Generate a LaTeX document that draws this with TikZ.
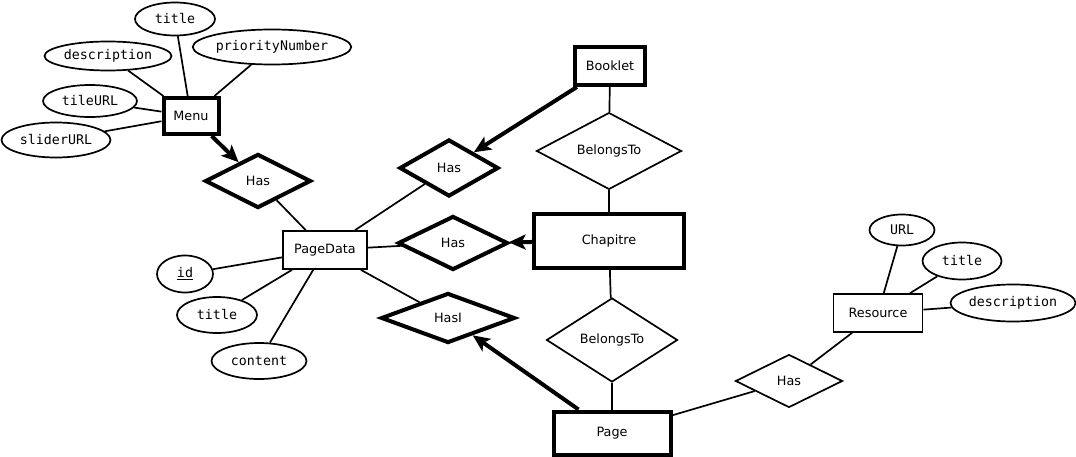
\documentclass[tikz,border=0pt]{standalone}
\usepackage{fontspec}
\setmainfont{DejaVu Sans}
\newfontfamily\monof{DejaVu Sans Mono}
\usetikzlibrary{shapes.geometric,arrows.meta}
\tikzset{
  thinln/.style={line width=1.7pt},
  thickln/.style={line width=4pt},
  lbl/.style={font=\fontsize{12.8pt}{14pt}\selectfont},
  attr/.style={ellipse, draw, thinln, inner sep=0pt, font=\monof\fontsize{13.3pt}{15pt}\selectfont},
  ent/.style={rectangle, draw, thinln, inner sep=0pt, lbl},
  strongent/.style={rectangle, draw, thickln, inner sep=0pt, lbl},
  rel/.style={diamond, draw, thinln, inner sep=0pt, lbl},
  strongrel/.style={diamond, draw, thickln, inner sep=0pt, lbl},
  conn/.style={thinln},
  bigarrow/.style={thickln, -{Stealth[length=17pt,width=15pt,inset=4pt]}},
}
\begin{document}
\begin{tikzpicture}[x=1pt,y=-1pt]
\useasboundingbox (0,0) rectangle (1076,457);
% Menu cluster
\node[strongent, minimum width=55, minimum height=36] (menu) at (191,116) {Menu};
\node[attr, minimum width=80, minimum height=33] (mtitle) at (175,19) {title};
\node[attr, minimum width=127, minimum height=29] (mdesc) at (108,56) {description};
\node[attr, minimum width=148, minimum height=35] (mprio) at (272,47) {priorityNumber};
\node[attr, minimum width=94, minimum height=32] (mtile) at (90,101) {tileURL};
\node[attr, minimum width=109, minimum height=35] (mslider) at (56,140) {sliderURL};
\node[strongrel, minimum width=106, minimum height=54] (has1) at (258,181) {Has};
% PageData cluster
\node[ent, minimum width=84, minimum height=38] (pagedata) at (325,250) {PageData};
\node[strongrel, minimum width=99, minimum height=57] (has2) at (449,168) {Has};
\node[strongrel, minimum width=110, minimum height=54] (has3) at (453,243) {Has};
\node[strongrel, minimum width=134, minimum height=50] (hasi) at (448,318) {HasI};
\node[attr, minimum width=56, minimum height=37] (pid) at (185,274) {\underline{id}};
\node[attr, minimum width=80, minimum height=36] (ptitle) at (217,315) {title};
\node[attr, minimum width=95, minimum height=36] (pcontent) at (259,361) {content};
% middle column
\node[strongent, minimum width=70, minimum height=38] (booklet) at (610,66) {Booklet};
\node[rel, minimum width=145, minimum height=72] (bel1) at (609,151) {BelongsTo};
\node[strongent, minimum width=150, minimum height=53] (chapitre) at (609,241) {Chapitre};
\node[rel, minimum width=131, minimum height=84] (bel2) at (612,340) {BelongsTo};
\node[strongent, minimum width=117, minimum height=43] (page) at (612,433) {Page};
% Resource cluster
\node[rel, minimum width=107, minimum height=53] (has4) at (789,381) {Has};
\node[ent, minimum width=89, minimum height=38] (resource) at (878,313) {Resource};
\node[attr, minimum width=65, minimum height=31] (rurl) at (902,230) {URL};
\node[attr, minimum width=79, minimum height=37] (rtitle) at (962,261) {title};
\node[attr, minimum width=125, minimum height=37] (rdesc) at (1013,303) {description};
% connectors
\draw[conn] (mtitle) -- (menu);
\draw[conn] (mdesc) -- (menu);
\draw[conn] (mprio) -- (menu);
\draw[conn] (mtile) -- (menu);
\draw[conn] (mslider) -- (menu);
\draw[bigarrow] (menu) -- (has1);
\draw[conn] (has1) -- (pagedata);
\draw[conn] (has2) -- (pagedata);
\draw[conn] (pagedata) -- (has3);
\draw[conn] (pagedata) -- (hasi);
\draw[conn] (pid) -- (pagedata);
\draw[conn] (ptitle) -- (pagedata);
\draw[conn] (pcontent) -- (pagedata);
\draw[bigarrow] (booklet) -- (has2);
\draw[conn] (booklet) -- (bel1);
\draw[conn] (bel1) -- (chapitre);
\draw[bigarrow] (chapitre) -- (has3);
\draw[conn] (chapitre) -- (bel2);
\draw[conn] (bel2) -- (page);
\draw[bigarrow] (page) -- (hasi);
\draw[conn] (page) -- (has4);
\draw[conn] (has4) -- (resource);
\draw[conn] (rurl) -- (resource);
\draw[conn] (rtitle) -- (resource);
\draw[conn] (resource) -- (rdesc);
\end{tikzpicture}
\end{document}
